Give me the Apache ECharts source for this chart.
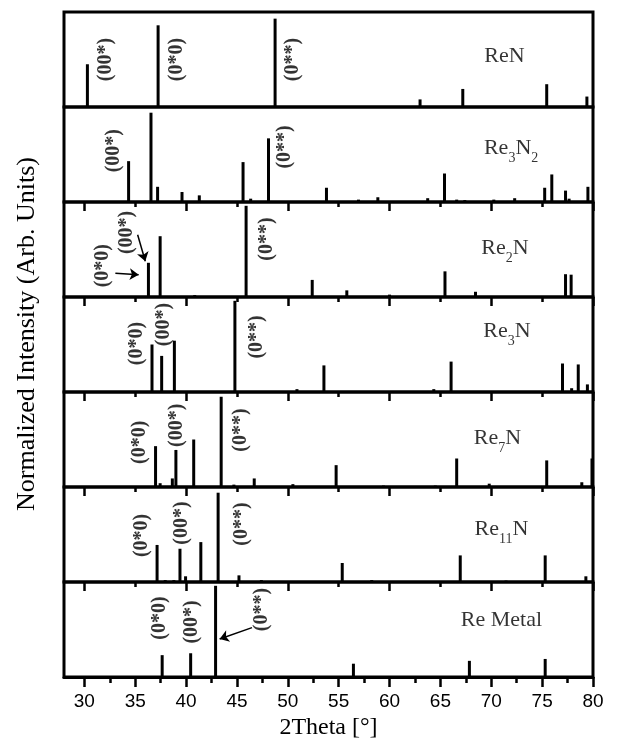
<!DOCTYPE html>
<html>
<head>
<meta charset="utf-8">
<script src="https://cdn.jsdelivr.net/npm/echarts@6/dist/echarts.min.js"></script>
<style>
  html, body { margin: 0; padding: 0; background: #fff; }
  #chart { width: 623px; height: 748px; }
</style>
</head>
<body>
<div id="chart"></div>
<script>
// Stick diffraction patterns (2Theta in degrees, normalized intensity 0..1)
const reN_2theta    = [30.3, 37.25, 48.75, 63.0, 67.2, 75.45, 79.4];
const reN_int       = [0.45, 0.86, 0.93, 0.08, 0.19, 0.24, 0.11];

const re3n2_2theta  = [34.35, 36.55, 37.2, 39.6, 41.3, 45.6, 46.35, 48.1, 53.8, 56.95, 58.85,
                       63.75, 65.4, 66.6, 67.4, 70.25, 72.3, 75.25, 75.95, 77.3, 77.65, 79.5];
const re3n2_int     = [0.43, 0.94, 0.16, 0.105, 0.07, 0.42, 0.035, 0.67, 0.15, 0.025, 0.05,
                       0.04, 0.30, 0.025, 0.02, 0.025, 0.04, 0.15, 0.29, 0.12, 0.035, 0.16];

const re2n_2theta   = [36.3, 37.45, 40.85, 45.9, 52.4, 55.8, 60.0, 65.45, 68.45, 77.3, 77.85];
const re2n_int      = [0.36, 0.64, 0.02, 0.96, 0.18, 0.07, 0.025, 0.27, 0.055, 0.24, 0.235];

const re3n_2theta   = [36.65, 37.6, 38.85, 44.8, 50.9, 53.55, 64.35, 66.05, 67.45, 71.8, 77.0, 77.9, 78.55, 79.45];
const re3n_int      = [0.50, 0.38, 0.54, 0.96, 0.03, 0.28, 0.03, 0.32, 0.01, 0.01, 0.30, 0.04, 0.29, 0.08];

const re7n_2theta   = [37.0, 37.45, 38.65, 39.0, 40.75, 43.45, 44.7, 46.7, 50.5, 54.75, 59.4,
                       64.5, 66.6, 69.8, 75.45, 78.9, 79.9];
const re7n_int      = [0.43, 0.04, 0.09, 0.39, 0.50, 0.95, 0.025, 0.09, 0.03, 0.23, 0.015,
                       0.015, 0.30, 0.035, 0.28, 0.05, 0.30];

const re11n_2theta  = [37.15, 37.95, 38.8, 39.4, 39.95, 41.45, 43.15, 45.2, 47.4, 52.55, 55.35,
                       58.25, 66.95, 71.45, 75.3, 79.3];
const re11n_int     = [0.39, 0.02, 0.02, 0.35, 0.06, 0.42, 0.94, 0.07, 0.02, 0.01, 0.20,
                       0.02, 0.28, 0.015, 0.28, 0.06];

const reMetal_2theta = [37.65, 40.45, 42.9, 56.45, 67.85, 75.3];
const reMetal_int    = [0.23, 0.25, 0.96, 0.14, 0.17, 0.19];

// Tick values for the 2Theta axis
const bottomTickValues = [30, 35, 40, 45, 50, 55, 60, 65, 70, 75, 80];
const panelTickValues  = [30, 40, 50, 60, 70, 80];

// Phase names (rich text with subscripts)
const phaseNames = ['ReN', '{b|Re}{s|3}{b|N}{s|2}', '{b|Re}{s|2}{b|N}', '{b|Re}{s|3}{b|N}',
                    '{b|Re}{s|7}{b|N}', '{b|Re}{s|11}{b|N}', 'Re Metal'];

const panels = [
  { x: reN_2theta,     y: reN_int },
  { x: re3n2_2theta,   y: re3n2_int },
  { x: re2n_2theta,    y: re2n_int },
  { x: re3n_2theta,    y: re3n_int },
  { x: re7n_2theta,    y: re7n_int },
  { x: re11n_2theta,   y: re11n_int },
  { x: reMetal_2theta, y: reMetal_int }
];

// Reflection labels and phase-name anchors, in (2Theta, intensity) coordinates
const hklLabels = [
  [['(00*)', 32.07, 0.50], ['(0*0)', 39.14, 0.50], ['(0**)', 50.5, 0.50]],
  [['(00*)', 32.9, 0.54], ['(0**)', 49.75, 0.58]],
  [['(0*0)', 31.85, 0.33], ['(00*)', 34.2, 0.68], ['(0**)', 47.95, 0.61]],
  [['(0*0)', 35.2, 0.51], ['(00*)', 37.8, 0.71], ['(0**)', 46.95, 0.58]],
  [['(0*0)', 35.5, 0.47], ['(00*)', 39.1, 0.65], ['(0**)', 45.35, 0.60]],
  [['(0*0)', 35.65, 0.49], ['(00*)', 39.6, 0.62], ['(0**)', 45.5, 0.61]],
  [['(0*0)', 37.45, 0.62], ['(00*)', 40.6, 0.58], ['(0**)', 47.45, 0.71]]
];
const nameAnchors = [[71.3, 0.53], [71.95, 0.54], [71.35, 0.49], [71.55, 0.62],
                     [70.6, 0.49], [71.0, 0.53], [71.0, 0.60]];

// Arrows pointing from labels to their reflections
const arrows = [
  { panel: 2, from: [35.24, 0.656], to: [35.99, 0.376] },
  { panel: 2, from: [33.05, 0.25],  to: [35.34, 0.235] },
  { panel: 6, from: [46.48, 0.52],  to: [43.3, 0.40] }
];

const SERIF = '"Liberation Serif", "Times New Roman", serif';
const SANS = '"Liberation Sans", Arial, sans-serif';
const X_MIN = 28, X_MAX = 80;
const GRID_LEFT = 64, GRID_RIGHT = 30, GRID_TOP = 12, PANEL_H = 95;
const NP = panels.length;

const grids = [], xAxes = [], yAxes = [], series = [];
const dataAxisIndex = [];

for (let i = 0; i < NP; i++) {
  grids.push({
    left: GRID_LEFT, right: GRID_RIGHT,
    top: GRID_TOP + i * PANEL_H, height: PANEL_H,
    show: true, borderColor: '#000', borderWidth: 3, backgroundColor: 'transparent'
  });
  yAxes.push({ gridIndex: i, type: 'value', min: 0, max: 1, show: false });

  const isLast = i === NP - 1;
  dataAxisIndex.push(xAxes.length);
  if (isLast) {
    xAxes.push({
      gridIndex: i, type: 'value', position: 'bottom', min: X_MIN, max: X_MAX,
      splitNumber: 10,
      axisLine: { show: true, lineStyle: { color: '#000', width: 3 } },
      axisTick: { show: true, customValues: bottomTickValues, length: 10, lineStyle: { color: '#000', width: 2.5 } },
      minorTick: { show: true, splitNumber: 2, length: 6, lineStyle: { color: '#000', width: 2.5 } },
      axisLabel: { show: true, customValues: bottomTickValues, margin: 15, color: '#000', fontSize: 19, fontFamily: SANS },
      splitLine: { show: false },
      name: '2Theta [°]', nameLocation: 'middle', nameGap: 39,
      nameTextStyle: { color: '#000', fontSize: 24, fontFamily: SERIF }
    });
  } else {
    xAxes.push({ gridIndex: i, type: 'value', position: 'bottom', min: X_MIN, max: X_MAX, show: false });
  }
  if (i >= 2) {
    xAxes.push({
      gridIndex: i, type: 'value', position: 'top', min: X_MIN, max: X_MAX,
      splitNumber: 5,
      axisLine: { show: false },
      axisTick: { show: true, inside: true, customValues: panelTickValues, length: 9, lineStyle: { color: '#000', width: 2.5 } },
      minorTick: { show: true, splitNumber: 2, length: 5, lineStyle: { color: '#000', width: 2.5 } },
      axisLabel: { show: false },
      splitLine: { show: false }
    });
  }
}

for (let i = 0; i < NP; i++) {
  const p = panels[i];
  const xi = dataAxisIndex[i];
  const hasSub = phaseNames[i].indexOf('{s|') >= 0;
  // stick pattern
  series.push({
    type: 'custom', xAxisIndex: xi, yAxisIndex: i, silent: true,
    data: p.x.map((v, k) => [v, p.y[k]]),
    renderItem: function (params, api) {
      const a = api.coord([api.value(0), 0]);
      const b = api.coord([api.value(0), api.value(1)]);
      return { type: 'line', shape: { x1: a[0], y1: a[1], x2: b[0], y2: b[1] },
               style: { stroke: '#000', lineWidth: 3 } };
    }
  });
  // reflection labels
  series.push({
    type: 'scatter', xAxisIndex: xi, yAxisIndex: i, silent: true, symbolSize: 0,
    data: hklLabels[i].map(l => ({ value: [l[1], l[2]], name: l[0] })),
    label: { show: true, position: 'inside', rotate: 90, formatter: '{b}',
             color: '#000', fontFamily: SERIF, fontWeight: 'bold', fontSize: 20 },
    z: 5
  });
  // phase name
  series.push({
    type: 'scatter', xAxisIndex: xi, yAxisIndex: i, silent: true, symbolSize: 0,
    data: [{ value: nameAnchors[i], name: phaseNames[i] }],
    label: { show: true, position: 'inside', formatter: '{b}', offset: [0, hasSub ? 8 : 0],
             color: '#000', fontFamily: SERIF, fontSize: 22,
             rich: {
               b: { color: '#000', fontFamily: SERIF, fontSize: 22, lineHeight: 26, verticalAlign: 'top' },
               s: { color: '#000', fontFamily: SERIF, fontSize: 14, lineHeight: 42, verticalAlign: 'middle' }
             } },
    z: 5
  });
}

// arrows
arrows.forEach(a => {
  series.push({
    type: 'lines', coordinateSystem: 'cartesian2d', silent: true,
    xAxisIndex: dataAxisIndex[a.panel], yAxisIndex: a.panel,
    symbol: ['none', 'arrow'], symbolSize: 9,
    lineStyle: { color: '#000', width: 1.5, opacity: 1 },
    data: [{ coords: [a.from, a.to] }],
    z: 6
  });
});

const chart = echarts.init(document.getElementById('chart'), null, { renderer: 'canvas' });
chart.setOption({
  animation: false,
  backgroundColor: '#fff',
  grid: grids, xAxis: xAxes, yAxis: yAxes, series: series,
  graphic: [{
    type: 'text', x: 27, y: 334, rotation: Math.PI / 2, silent: true,
    style: { text: 'Normalized Intensity (Arb. Units)', fill: '#000',
             font: '26px ' + SERIF, align: 'center', verticalAlign: 'middle' }
  }]
});
</script>
</body>
</html>
